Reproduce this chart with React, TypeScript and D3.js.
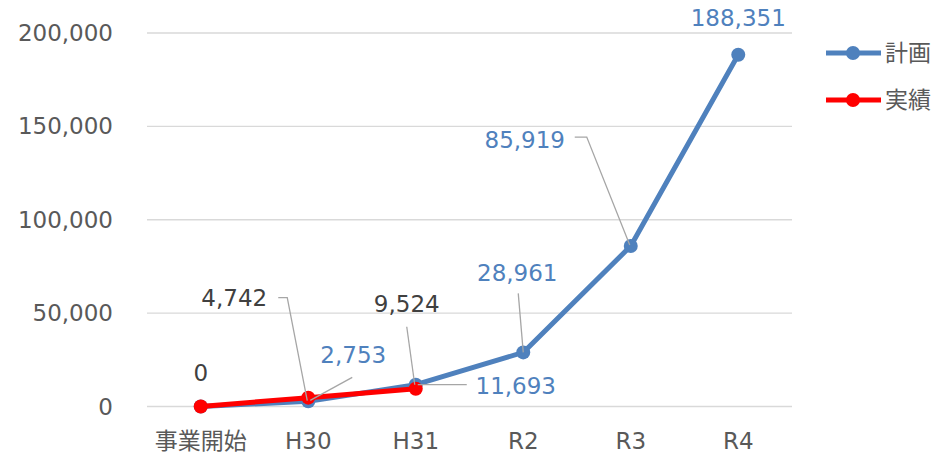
import React from "react";
import * as d3 from "d3";

const categories = ["事業開始", "H30", "H31", "R2", "R3", "R4"];
const planValues = [0, 2753, 11693, 28961, 85919, 188351];
const actualValues = [0, 4742, 9524];
const yTicks = [0, 50000, 100000, 150000, 200000];
const seriesNames = ["計画", "実績"];

// label layout (offsets from point), leader polyline offsets from label anchor
type LabelLayout = { dx: number; dy: number; anchor: string; leader?: [number, number][] };
const planLabelLayout: (LabelLayout | null)[] = [
  null,
  { dx: 45, dy: -46, anchor: "middle", leader: [[-1, 22], [-43, 45]] },
  { dx: 100, dy: 1, anchor: "middle", leader: [[-49, -1], [-98, -1]] },
  { dx: -6, dy: -79, anchor: "middle", leader: [[1, 20], [6, 79]] },
  { dx: -106, dy: -106, anchor: "middle", leader: [[50, -3], [62, -3], [105, 105]] },
  { dx: 0, dy: -37, anchor: "middle" },
];
const actualLabelLayout: (LabelLayout | null)[] = [
  { dx: 0, dy: -34, anchor: "middle" },
  { dx: -74, dy: -100, anchor: "middle", leader: [[44, 0], [53, 0], [73, 103]] },
  { dx: -9, dy: -85, anchor: "middle", leader: [[0, 23], [8, 81]] },
];

const W = 947;
const H = 457;
const FONT = "'DejaVu Sans', 'Noto Sans CJK JP', sans-serif";
const BLUE = "#4f81bd";
const RED = "#ff0000";
const GRID = "#d9d9d9";
const TEXT = "#595959";
const DARK = "#404040";
const LEADER = "#a6a6a6";

export default function App() {
  const x = d3.scaleBand<string>().domain(categories).range([147, 792]);
  const y = d3.scaleLinear().domain([0, 200000]).range([406.5, 33]);
  const cx = (i: number) => (x(categories[i]) as number) + x.bandwidth() / 2;
  const fmt = d3.format(",");
  const line = d3
    .line<number>()
    .x((_, i) => cx(i))
    .y((d) => y(d));

  const renderLabels = (vals: number[], layout: (LabelLayout | null)[], color: string) =>
    vals.map((v, i) => {
      const l = layout[i];
      if (!l) return null;
      const px = cx(i);
      const py = y(v);
      const lx = px + l.dx;
      const ly = py + l.dy;
      return (
        <g key={i}>
          {l.leader && (
            <polyline
              points={l.leader.map(([a, b]) => `${lx + a},${ly + b}`).join(" ")}
              fill="none"
              stroke={LEADER}
              strokeWidth={1.3}
            />
          )}
          <text
            x={lx}
            y={ly}
            textAnchor={l.anchor}
            dominantBaseline="central"
            fill={color}
            fontSize={23}
            fontFamily={FONT}
          >
            {fmt(v)}
          </text>
        </g>
      );
    });

  return (
    <svg
      width={W}
      height={H}
      style={{ position: "absolute", left: 0, top: 0, background: "#fff" }}
    >
      {yTicks.map((t) => (
        <g key={t}>
          <line x1={147} x2={792} y1={y(t)} y2={y(t)} stroke={GRID} strokeWidth={1.3} />
          <text
            x={113}
            y={y(t)}
            textAnchor="end"
            dominantBaseline="central"
            fill={TEXT}
            fontSize={23}
            fontFamily={FONT}
          >
            {fmt(t)}
          </text>
        </g>
      ))}
      {categories.map((c, i) => (
        <text
          key={c}
          x={cx(i)}
          y={441}
          textAnchor="middle"
          dominantBaseline="central"
          fill={TEXT}
          fontSize={23}
          fontFamily={FONT}
        >
          {c}
        </text>
      ))}
      <path d={line(planValues) || ""} fill="none" stroke={BLUE} strokeWidth={5} strokeLinejoin="round" />
      {planValues.map((v, i) => (
        <circle key={i} cx={cx(i)} cy={y(v)} r={7} fill={BLUE} />
      ))}
      <path d={line(actualValues) || ""} fill="none" stroke={RED} strokeWidth={5} strokeLinejoin="round" />
      {actualValues.map((v, i) => (
        <circle key={i} cx={cx(i)} cy={y(v)} r={7} fill={RED} />
      ))}
      {renderLabels(planValues, planLabelLayout, BLUE)}
      {renderLabels(actualValues, actualLabelLayout, DARK)}
      {seriesNames.map((s, i) => {
        const ly = 53 + i * 47;
        const col = i === 0 ? BLUE : RED;
        return (
          <g key={s}>
            <line x1={826} x2={881} y1={ly} y2={ly} stroke={col} strokeWidth={5} />
            <circle cx={853} cy={ly} r={7} fill={col} />
            <text
              x={885}
              y={ly}
              dominantBaseline="central"
              fill={TEXT}
              fontSize={23}
              fontFamily={FONT}
            >
              {s}
            </text>
          </g>
        );
      })}
    </svg>
  );
}
